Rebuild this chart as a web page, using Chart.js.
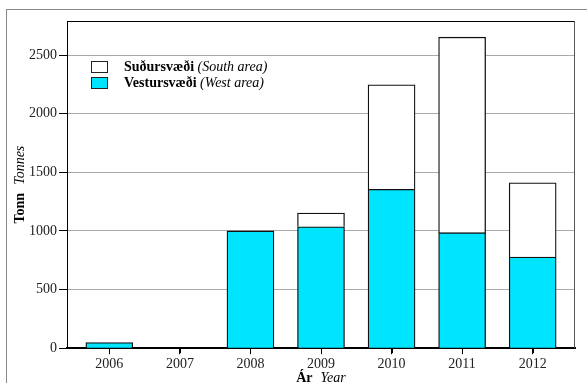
<!DOCTYPE html>
<html>
<head>
<meta charset="utf-8">
<script src="https://cdn.jsdelivr.net/npm/chart.js@4"></script>
<style>
  html, body { margin: 0; padding: 0; background: #fff; }
  canvas { display: block; }
</style>
</head>
<body>
<canvas id="chart" width="587" height="383"></canvas>
<script>
// --- data ---
const years = [2006, 2007, 2008, 2009, 2010, 2011, 2012];
const westArea = [48, null, 1000, 1035, 1355, 985, 778];     // Vestursvæði
const southArea = [null, null, null, 117, 891, 1667, 633];   // Suðursvæði
const yTicks = [0, 500, 1000, 1500, 2000, 2500];

const SERIF = '"Liberation Serif", "DejaVu Serif", serif';
const CYAN = '#00e5ff';

// frame, plot box, legend and axis titles (mixed bold/italic) drawn here
const decorations = {
  id: 'decorations',
  beforeDraw(chart) {
    const c = chart.ctx;
    c.save();
    c.strokeStyle = '#888';
    c.lineWidth = 1;
    c.strokeRect(6.5, 9.5, 600, 400);
    c.restore();
  },
  afterDraw(chart) {
    const c = chart.ctx;
    const a = chart.chartArea;
    const xs = chart.scales.x;
    c.save();
    // top and right of the plot box
    c.lineWidth = 1;
    c.strokeStyle = '#000';
    c.beginPath();
    c.moveTo(a.left, a.top + 0.5);
    c.lineTo(a.right, a.top + 0.5);
    c.stroke();
    c.strokeStyle = '#555';
    c.beginPath();
    c.moveTo(a.right - 0.5, a.top);
    c.lineTo(a.right - 0.5, a.bottom);
    c.stroke();

    // x tick marks under the axis
    c.strokeStyle = '#000';
    years.forEach(yr => {
      const px = Math.round(xs.getPixelForValue(yr)) + 0.5;
      c.beginPath();
      c.moveTo(px, a.bottom);
      c.lineTo(px, a.bottom + 5);
      c.stroke();
    });

    // legend
    const items = [
      { bold: 'Suðursvæði', ital: '(South area)', ds: chart.data.datasets[1] },
      { bold: 'Vestursvæði', ital: '(West area)', ds: chart.data.datasets[0] }
    ];
    c.textBaseline = 'middle';
    items.forEach((it, i) => {
      const y = 67 + i * 16;
      c.fillStyle = it.ds.backgroundColor;
      c.fillRect(91, y - 6, 17, 12);
      c.strokeStyle = '#222';
      c.strokeRect(91.5, y - 5.5, 16, 11);
      c.fillStyle = '#000';
      c.font = 'bold 14px ' + SERIF;
      c.textAlign = 'left';
      c.fillText(it.bold, 124, y);
      const w = c.measureText(it.bold + ' ').width;
      c.font = 'italic 14px ' + SERIF;
      c.fillText(it.ital, 124 + w, y);
    });

    // x title
    const cx = (a.left + a.right) / 2;
    c.font = 'bold 14px ' + SERIF;
    const wb = c.measureText('Ár').width;
    c.font = 'italic 14px ' + SERIF;
    const wi = c.measureText('Year').width;
    const gap = 8;
    let x0 = cx - (wb + gap + wi) / 2;
    c.textAlign = 'left';
    c.font = 'bold 14px ' + SERIF;
    c.fillText('Ár', x0, 378);
    c.font = 'italic 14px ' + SERIF;
    c.fillText('Year', x0 + wb + gap, 378);

    // y title (rotated)
    c.translate(20, (a.top + a.bottom) / 2);
    c.rotate(-Math.PI / 2);
    c.font = 'bold 14px ' + SERIF;
    const tb = c.measureText('Tonn').width;
    c.font = 'italic 14px ' + SERIF;
    const ti = c.measureText('Tonnes').width;
    x0 = -(tb + gap + ti) / 2;
    c.font = 'bold 14px ' + SERIF;
    c.fillText('Tonn', x0, 0);
    c.font = 'italic 14px ' + SERIF;
    c.fillText('Tonnes', x0 + tb + gap, 0);
    c.restore();
  }
};

new Chart(document.getElementById('chart'), {
  type: 'bar',
  data: {
    datasets: [
      {
        label: 'Vestursvæði (West area)',
        data: years.map((yr, i) => ({ x: yr, y: westArea[i] })),
        backgroundColor: CYAN,
        borderColor: '#111',
        borderWidth: 1.3,
        barThickness: 47
      },
      {
        label: 'Suðursvæði (South area)',
        data: years.map((yr, i) => ({ x: yr, y: southArea[i] })),
        backgroundColor: '#ffffff',
        borderColor: '#111',
        borderWidth: 1.3,
        barThickness: 47
      }
    ]
  },
  options: {
    responsive: false,
    animation: false,
    layout: { padding: { left: 27, right: 12, top: 21, bottom: 8 } },
    plugins: {
      legend: { display: false },
      tooltip: { enabled: false }
    },
    scales: {
      x: {
        type: 'linear',
        stacked: true,
        min: 2005.4,
        max: 2012.6,
        offset: false,
        border: { color: '#000', width: 2 },
        grid: {
          offset: false,
          drawOnChartArea: false,
          tickLength: 6,
          tickColor: '#000'
        },
        ticks: {
          stepSize: 1,
          includeBounds: false,
          padding: 2,
          color: '#222',
          font: { family: SERIF, size: 14 },
          callback: v => String(v)
        },
        afterBuildTicks: s => { s.ticks = years.map(v => ({ value: v })); }
      },
      y: {
        stacked: true,
        min: 0,
        max: 2790,
        border: { color: '#000', width: 1 },
        grid: { color: '#aaa', lineWidth: 1, tickLength: 8, tickColor: '#000' },
        ticks: {
          padding: 2,
          color: '#222',
          font: { family: SERIF, size: 14 },
          includeBounds: false,
          callback: v => String(v)
        },
        afterBuildTicks: s => { s.ticks = yTicks.map(v => ({ value: v })); }
      }
    }
  },
  plugins: [decorations]
});
</script>
</body>
</html>
